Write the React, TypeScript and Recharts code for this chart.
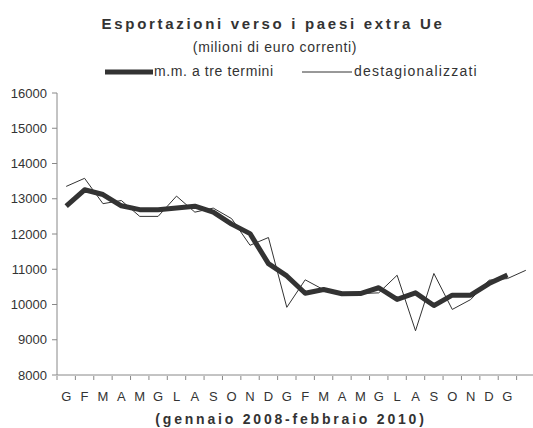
import { Line, LineChart, XAxis, YAxis } from 'recharts';

// gennaio 2008 - febbraio 2010
const months = [
  'G', 'F', 'M', 'A', 'M', 'G', 'L', 'A', 'S', 'O', 'N', 'D',
  'G', 'F', 'M', 'A', 'M', 'G', 'L', 'A', 'S', 'O', 'N', 'D',
  'G', 'F',
];

const destagionalizzati = [
  13350, 13580, 12860, 12950, 12500, 12500, 13075, 12620, 12735, 12435, 11680, 11900,
  9920, 10700, 10420, 10310, 10310, 10330, 10830, 9255, 10880, 9860, 10140, 10690,
  10735, 10970,
];

const mediaMobile = [
  12790, 13255, 13120, 12800, 12690, 12690, 12735, 12790, 12620, 12280, 12010, 11160,
  10810, 10320, 10425, 10305, 10310, 10475, 10145, 10330, 9970, 10265, 10265, 10595,
  10840, null,
];

const yTicks = [8000, 9000, 10000, 11000, 12000, 13000, 14000, 15000, 16000];

const data = months.map((m, i) => ({
  x: i + 0.5,
  m,
  dest: destagionalizzati[i],
  mm: mediaMobile[i],
}));

const boundaryTicks = months.map((_, i) => i).concat(months.length);
const labelTicks = data.slice(0, 25).map((d) => d.x);

const font = '"Liberation Sans", Arial, sans-serif';
const ink = '#333';
const axisGrey = '#888';

export default function App() {
  return (
    <div
      style={{
        position: 'absolute',
        left: 0,
        top: 0,
        width: 533,
        height: 428,
        overflow: 'hidden',
        background: '#fff',
        fontFamily: font,
      }}
    >
      <LineChart
        width={545}
        height={428}
        data={data}
        margin={{ top: 93, right: 10, bottom: 23, left: 0 }}
      >
        {/* month letters + axis line; 1px high so the tick axis sits right under it */}
        <XAxis
          xAxisId="l"
          type="number"
          dataKey="x"
          domain={[0, months.length]}
          ticks={labelTicks}
          tickFormatter={(v: number) => months[Math.floor(v)]}
          axisLine={{ stroke: axisGrey }}
          tickLine={false}
          tickSize={6}
          tickMargin={11}
          height={1}
          tick={{ fill: ink, fontSize: 13, fontFamily: font }}
        />
        {/* ticks between months */}
        <XAxis
          xAxisId="t"
          type="number"
          dataKey="x"
          domain={[0, months.length]}
          ticks={boundaryTicks}
          tickFormatter={() => ''}
          tickSize={4}
          height={29}
          axisLine={false}
          tickLine={{ stroke: axisGrey }}
        />
        <YAxis
          domain={[8000, 16000]}
          ticks={yTicks}
          width={57}
          tickSize={5}
          tickMargin={5}
          axisLine={{ stroke: axisGrey }}
          tickLine={{ stroke: axisGrey }}
          tick={{ fill: ink, fontSize: 13, fontFamily: font }}
        />
        <Line
          xAxisId="t"
          dataKey="dest"
          type="linear"
          stroke={ink}
          strokeWidth={1}
          dot={false}
          isAnimationActive={false}
        />
        <Line
          xAxisId="t"
          dataKey="mm"
          type="linear"
          stroke={ink}
          strokeWidth={5}
          strokeLinejoin="round"
          dot={false}
          isAnimationActive={false}
        />
      </LineChart>
      <svg
        width={533}
        height={428}
        style={{ position: 'absolute', left: 0, top: 0, pointerEvents: 'none' }}
      >
        <text x={273} y={29} textAnchor="middle" fontSize={15} fontWeight="bold" letterSpacing={2.7} fill={ink} fontFamily={font}>
          Esportazioni verso i paesi extra Ue
        </text>
        <text x={275} y={52} textAnchor="middle" fontSize={14} letterSpacing={0.7} fill={ink} fontFamily={font}>
          (milioni di euro correnti)
        </text>
        <line x1={105} y1={72} x2={153} y2={72} stroke={ink} strokeWidth={5} />
        <text x={154} y={76} fontSize={14} letterSpacing={0.6} fill={ink} fontFamily={font}>
          m.m. a tre termini
        </text>
        <line x1={302} y1={72} x2={352} y2={72} stroke={ink} strokeWidth={1} />
        <text x={354} y={76} fontSize={14} letterSpacing={1.2} fill={ink} fontFamily={font}>
          destagionalizzati
        </text>
        <text x={291} y={424} textAnchor="middle" fontSize={14} fontWeight="bold" letterSpacing={2.8} fill={ink} fontFamily={font}>
          (gennaio 2008-febbraio 2010)
        </text>
      </svg>
    </div>
  );
}
